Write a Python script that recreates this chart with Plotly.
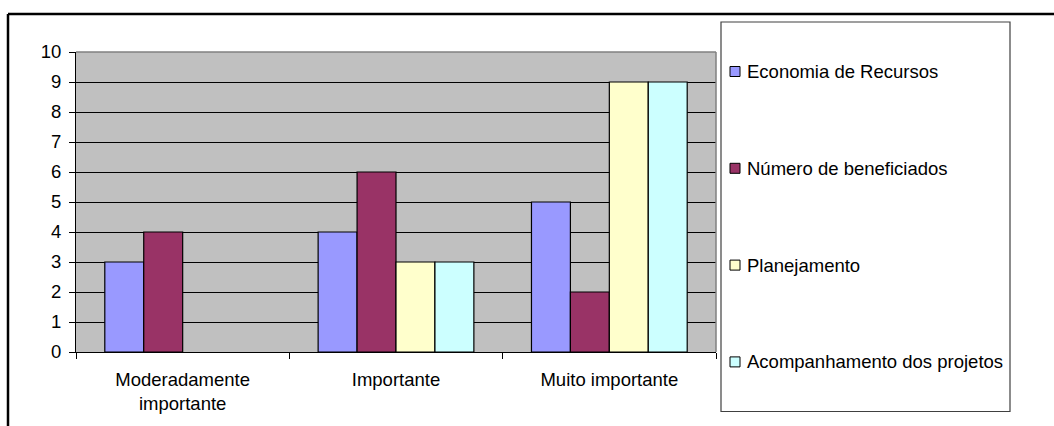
import plotly.graph_objects as go

# Categories on the x axis
categories = ["Moderadamente<br>importante", "Importante", "Muito importante"]

# Series values per category
economia = [3, 4, 5]
beneficiados = [4, 6, 2]
planejamento = [0, 3, 9]
acompanhamento = [0, 3, 9]

series_names = [
    "Economia de Recursos",
    "Número de beneficiados",
    "Planejamento",
    "Acompanhamento dos projetos",
]
series_values = [economia, beneficiados, planejamento, acompanhamento]
series_colors = ["#9999FF", "#993366", "#FFFFCC", "#CCFFFF"]

y_ticks = list(range(0, 11))

FONT = "Liberation Sans, Arial, sans-serif"
FS = 18.5

W, H = 1054, 426
ML, MR, MT, MB = 76, 338, 52, 74
PW, PH = W - ML - MR, H - MT - MB


def px_x(x):
    return (x - ML) / PW


def px_y(y):
    return (H - MB - y) / PH


fig = go.Figure()
for name, vals, col in zip(series_names, series_values, series_colors):
    fig.add_trace(go.Bar(
        x=categories, y=vals, name=name,
        marker=dict(color=col,
                    line=dict(color="#000000",
                              width=[1.2 if v else 0 for v in vals])),
        showlegend=False,
    ))

shapes = []
# plot-area border (top and right)
shapes.append(dict(type="line", xref="paper", yref="paper", x0=0, x1=1, y0=1, y1=1,
                   line=dict(color="#808080", width=1.5)))
shapes.append(dict(type="line", xref="paper", yref="paper", x0=1, x1=1, y0=0, y1=1,
                   line=dict(color="#808080", width=1.5)))
# outer chart frame (top and left edges)
shapes.append(dict(type="line", xref="paper", yref="paper",
                   x0=px_x(8), x1=px_x(W + 5), y0=px_y(14), y1=px_y(14),
                   line=dict(color="#000000", width=2.5)))
shapes.append(dict(type="line", xref="paper", yref="paper",
                   x0=px_x(8), x1=px_x(8), y0=px_y(14), y1=px_y(H + 5),
                   line=dict(color="#000000", width=2.5)))
# legend box
shapes.append(dict(type="rect", xref="paper", yref="paper",
                   x0=px_x(721), x1=px_x(1010), y0=px_y(22), y1=px_y(411.5),
                   line=dict(color="#404040", width=1.2), fillcolor="#FFFFFF"))

annotations = []
legend_y0, legend_step = 71.5, 96.8
for i, (name, col) in enumerate(zip(series_names, series_colors)):
    yc = legend_y0 + i * legend_step
    shapes.append(dict(type="rect", xref="paper", yref="paper",
                       x0=px_x(730), x1=px_x(740), y0=px_y(yc - 5), y1=px_y(yc + 5),
                       line=dict(color="#000000", width=1), fillcolor=col))
    annotations.append(dict(text=name, xref="paper", yref="paper",
                            x=px_x(745), y=px_y(yc), xanchor="left", yanchor="middle",
                            showarrow=False, font=dict(family=FONT, size=FS, color="#000000")))

fig.update_layout(
    width=W, height=H,
    margin=dict(l=ML, r=MR, t=MT, b=MB, pad=0),
    paper_bgcolor="#FFFFFF", plot_bgcolor="#C0C0C0",
    barmode="group", bargap=0.27, bargroupgap=0,
    font=dict(family=FONT, size=FS, color="#000000"),
    shapes=shapes, annotations=annotations,
    showlegend=False,
)
fig.update_xaxes(
    type="category", tickson="boundaries", ticks="outside", ticklen=6,
    tickcolor="#000000", showline=True, linecolor="#000000", linewidth=1,
    showgrid=False, ticklabelstandoff=11,
    tickfont=dict(family=FONT, size=FS, color="#000000"),
)
fig.update_yaxes(
    range=[0, 10], tickvals=y_ticks, ticks="outside", ticklen=6,
    tickcolor="#000000", showline=True, linecolor="#000000", linewidth=1,
    showgrid=True, gridcolor="#000000", gridwidth=1, zeroline=False,
    ticklabelstandoff=4,
    tickfont=dict(family=FONT, size=FS, color="#000000"),
)

fig.write_html("out.html")
